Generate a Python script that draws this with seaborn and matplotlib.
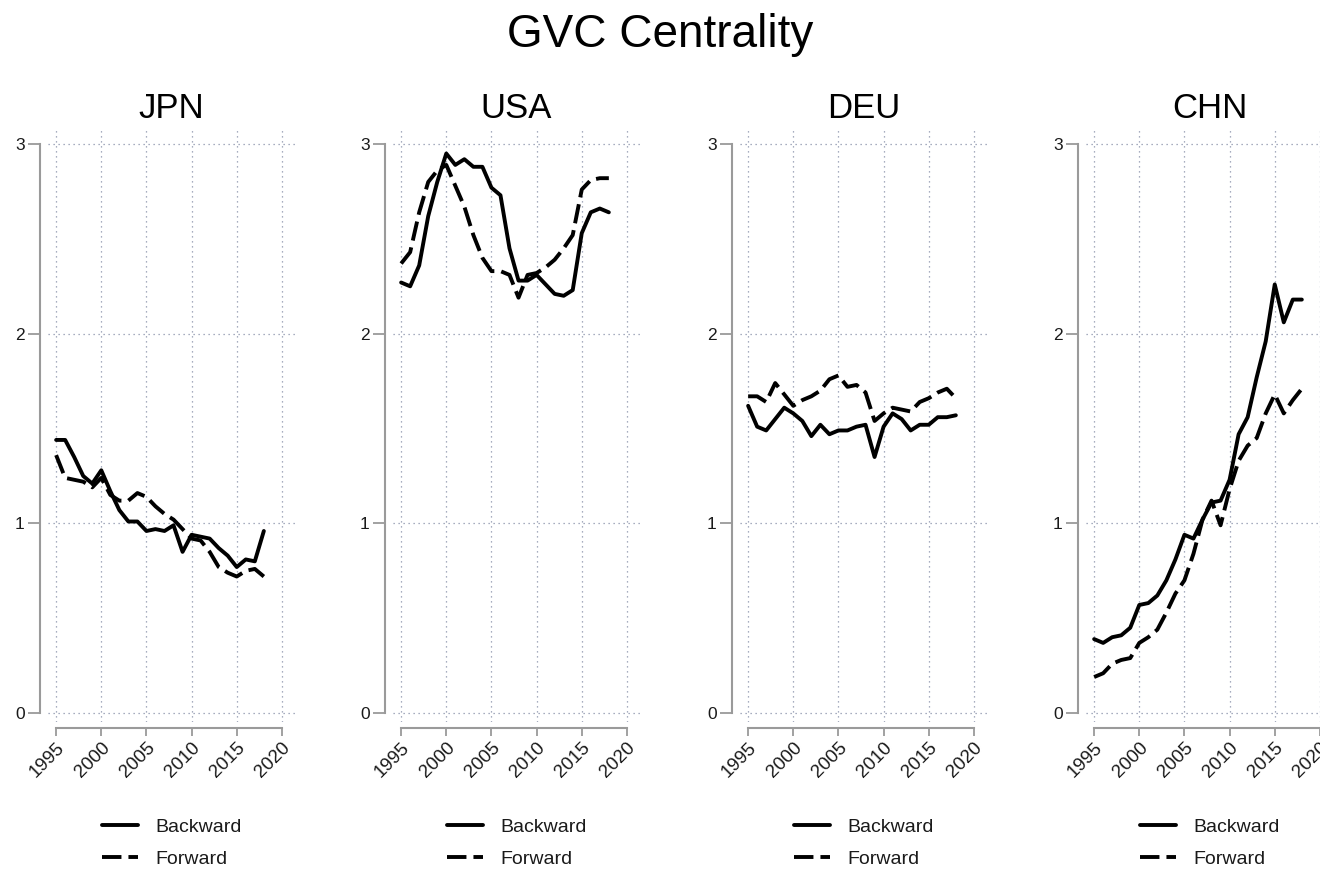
import matplotlib
matplotlib.use("Agg")
import matplotlib.pyplot as plt
import numpy as np
import pandas as pd
import seaborn as sns

# ---------------- data ----------------
years = list(range(1995, 2019))
countries = ["JPN", "USA", "DEU", "CHN"]
series_names = ["Backward", "Forward"]

jpn_backward = [1.44, 1.44, 1.35, 1.25, 1.21, 1.28, 1.17, 1.07, 1.01, 1.01, 0.96, 0.97,
                0.96, 0.99, 0.85, 0.94, 0.93, 0.92, 0.87, 0.83, 0.77, 0.81, 0.80, 0.96]
jpn_forward = [1.36, 1.24, 1.23, 1.22, 1.19, 1.24, 1.15, 1.12, 1.12, 1.16, 1.14, 1.09,
               1.05, 1.02, 0.97, 0.92, 0.91, 0.85, 0.77, 0.74, 0.72, 0.75, 0.76, 0.72]

usa_backward = [2.27, 2.25, 2.36, 2.62, 2.80, 2.95, 2.89, 2.92, 2.88, 2.88, 2.77, 2.73,
                2.45, 2.28, 2.28, 2.31, 2.26, 2.21, 2.20, 2.23, 2.53, 2.64, 2.66, 2.64]
usa_forward = [2.37, 2.43, 2.64, 2.80, 2.86, 2.89, 2.78, 2.67, 2.52, 2.40, 2.33, 2.33,
               2.31, 2.19, 2.31, 2.32, 2.35, 2.39, 2.45, 2.52, 2.76, 2.81, 2.82, 2.82]

deu_backward = [1.62, 1.51, 1.49, 1.55, 1.61, 1.58, 1.54, 1.46, 1.52, 1.47, 1.49, 1.49,
                1.51, 1.52, 1.35, 1.51, 1.58, 1.55, 1.49, 1.52, 1.52, 1.56, 1.56, 1.57]
deu_forward = [1.67, 1.67, 1.64, 1.74, 1.68, 1.62, 1.65, 1.67, 1.70, 1.76, 1.78, 1.72,
               1.73, 1.69, 1.54, 1.58, 1.61, 1.60, 1.59, 1.64, 1.66, 1.69, 1.71, 1.66]

chn_backward = [0.39, 0.37, 0.40, 0.41, 0.45, 0.57, 0.58, 0.62, 0.70, 0.81, 0.94, 0.92,
                1.02, 1.11, 1.12, 1.23, 1.47, 1.56, 1.77, 1.96, 2.26, 2.06, 2.18, 2.18]
chn_forward = [0.19, 0.21, 0.26, 0.28, 0.29, 0.37, 0.40, 0.44, 0.53, 0.63, 0.70, 0.84,
               1.02, 1.12, 0.99, 1.18, 1.33, 1.41, 1.45, 1.58, 1.68, 1.58, 1.65, 1.71]

x_ticks = [1995, 2000, 2005, 2010, 2015, 2020]
y_ticks = [0, 1, 2, 3]
chart_title = "GVC Centrality"

values = {
    "JPN": (jpn_backward, jpn_forward),
    "USA": (usa_backward, usa_forward),
    "DEU": (deu_backward, deu_forward),
    "CHN": (chn_backward, chn_forward),
}

rows = []
for c in countries:
    for name, vals in zip(series_names, values[c]):
        for y, v in zip(years, vals):
            rows.append({"country": c, "year": y, "value": v, "type": name})
df = pd.DataFrame(rows)

# ---------------- style ----------------
sns.set_theme(style="white")
plt.rcParams["font.family"] = ["Liberation Sans", "DejaVu Sans"]
plt.rcParams["text.color"] = "black"

W, H = 1320, 872
fig = plt.figure(figsize=(W / 100, H / 100), dpi=100)

lefts_px = [48, 393, 740, 1086]
ax_w_px = 247
top_px, bottom_px = 130, 722

spine_col = "#9a9a9a"
grid_col = "#8a93aa"

for c, lpx in zip(countries, lefts_px):
    ax = fig.add_axes([lpx / W, 1 - bottom_px / H, ax_w_px / W, (bottom_px - top_px) / H])
    sns.lineplot(
        data=df[df["country"] == c], x="year", y="value",
        style="type", style_order=series_names,
        dashes={"Backward": "", "Forward": (5, 1.8)},
        color="black", linewidth=2.8, ax=ax,
    )
    ax.set_xlim(1994.1, 2021.45)
    ax.set_ylim(-0.047, 3.074)
    ax.set_xticks(x_ticks)
    ax.set_yticks(y_ticks)
    ax.set_xlabel("")
    ax.set_ylabel("")
    ax.grid(True, linestyle=(0, (1, 3)), color=grid_col, linewidth=0.9)
    for s in ["top", "right"]:
        ax.spines[s].set_visible(False)
    ax.spines["left"].set_position(("outward", 5.8))
    ax.spines["bottom"].set_position(("outward", 4.3))
    ax.spines["left"].set_bounds(0, 3)
    ax.spines["bottom"].set_bounds(1995, 2020)
    for s in ["left", "bottom"]:
        ax.spines[s].set_color(spine_col)
        ax.spines[s].set_linewidth(1.5)
    ax.tick_params(axis="y", length=9, width=1.3, color=spine_col, labelsize=12.5,
                   labelcolor="#1a1a1a", pad=2, left=True)
    ax.tick_params(axis="x", length=6, width=1.3, color=spine_col, labelsize=13.5,
                   labelcolor="#1a1a1a", pad=2, bottom=True, labelrotation=45)
    ax.set_xticks(x_ticks, [str(t) for t in x_ticks])
    for lab in ax.get_xticklabels():
        lab.set_rotation(45)
        lab.set_ha("right")
        lab.set_va("top")
        lab.set_rotation_mode("anchor")
    ax.set_title(c, fontsize=25, pad=9, color="black")

    handles, labels = ax.get_legend_handles_labels()
    hl = [(h, l) for h, l in zip(handles, labels) if l in series_names]
    if ax.get_legend() is not None:
        ax.get_legend().remove()
    leg = ax.legend([h for h, _ in hl], [l for _, l in hl], loc="upper center",
                    bbox_to_anchor=(0.5, -0.133), frameon=False, fontsize=14,
                    handlelength=1.85, handletextpad=0.9, labelspacing=0.75)
    for t in leg.get_texts():
        t.set_color("#1a1a1a")

fig.text(0.5, 1 - 35 / H, chart_title, ha="center", va="center", fontsize=33, color="black")

fig.savefig("out.png", dpi=100)
